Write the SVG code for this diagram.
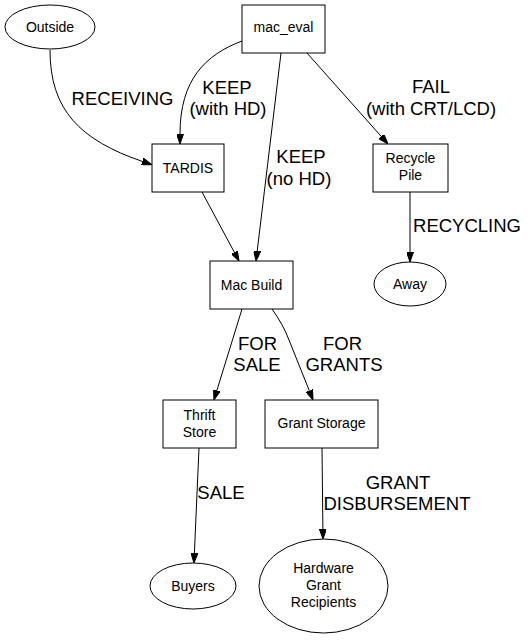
<svg xmlns="http://www.w3.org/2000/svg" width="528" height="640" viewBox="0 0 528 640">
<defs>
<marker id="ah" viewBox="0 0 10 7" refX="0" refY="3.5" markerWidth="10" markerHeight="7" markerUnits="userSpaceOnUse" orient="auto">
<path d="M0,0 L10,3.5 L0,7 z" fill="#000" stroke="#000" stroke-width="1"/>
</marker>
<style>
.n{fill:#fff;stroke:#000;stroke-width:1}
.t{font-family:"Liberation Sans",Arial,sans-serif;font-size:14px;text-anchor:middle;fill:#000}
.l{font-family:"Liberation Sans",Arial,sans-serif;font-size:18.5px;text-anchor:middle;fill:#000}
.e{fill:none;stroke:#000;stroke-width:1;marker-end:url(#ah)}
</style>
</defs>
<rect width="528" height="640" fill="#fff"/>
<g id="edges">
<path class="e" d="M50,50 C50,110 80,140 142.3,161.4"/>
<path class="e" d="M242,41 C205,55 180,80 180,134"/>
<path class="e" d="M281,53 L257.2,251.1"/>
<path class="e" d="M307,53 L381.3,136.5"/>
<path class="e" d="M202,192 L234.3,252.2"/>
<path class="e" d="M410,192 L410,252"/>
<path class="e" d="M242,309 L216.9,390.4"/>
<path class="e" d="M272,309 C279,319 285,329 289,340 L309.3,390.7"/>
<path class="e" d="M199,448 L194.4,553"/>
<path class="e" d="M322,448 L322.9,529"/>
<text class="l" x="122.5" y="105">RECEIVING</text>
<text class="l" x="227" y="94">KEEP</text>
<text class="l" x="228" y="115">(with HD)</text>
<text class="l" x="301" y="163">KEEP</text>
<text class="l" x="299" y="185">(no HD)</text>
<text class="l" x="431" y="93">FAIL</text>
<text class="l" x="431" y="115">(with CRT/LCD)</text>
<text class="l" x="467" y="232">RECYCLING</text>
<text class="l" x="257.5" y="350">FOR</text>
<text class="l" x="257" y="371">SALE</text>
<text class="l" x="342.5" y="350">FOR</text>
<text class="l" x="344" y="371">GRANTS</text>
<text class="l" x="221" y="499">SALE</text>
<text class="l" x="398" y="489">GRANT</text>
<text class="l" x="397" y="510">DISBURSEMENT</text>
</g>
<g id="Outside"><ellipse class="n" cx="50" cy="27" rx="45" ry="22"/><text class="t" x="50" y="32">Outside</text></g>
<g id="mac_eval"><rect class="n" x="242" y="5" width="83" height="48"/><text class="t" x="283.5" y="32">mac_eval</text></g>
<g id="TARDIS"><rect class="n" x="152" y="144" width="72" height="48"/><text class="t" x="188" y="173">TARDIS</text></g>
<g id="RecyclePile"><rect class="n" x="373" y="144" width="75" height="48"/><text class="t" x="410.5" y="163">Recycle</text><text class="t" x="410.5" y="180">Pile</text></g>
<g id="Away"><ellipse class="n" cx="410" cy="284" rx="36" ry="22"/><text class="t" x="410" y="289">Away</text></g>
<g id="MacBuild"><rect class="n" x="210" y="261" width="83" height="48"/><text class="t" x="251.5" y="290">Mac Build</text></g>
<g id="ThriftStore"><rect class="n" x="163" y="400" width="73" height="48"/><text class="t" x="199.5" y="420">Thrift</text><text class="t" x="199.5" y="437">Store</text></g>
<g id="GrantStorage"><rect class="n" x="265" y="400" width="113" height="48"/><text class="t" x="321.5" y="428">Grant Storage</text></g>
<g id="Buyers"><ellipse class="n" cx="193" cy="586" rx="43" ry="23"/><text class="t" x="193" y="591">Buyers</text></g>
<g id="HardwareGrantRecipients"><ellipse class="n" cx="323.5" cy="586" rx="64.5" ry="47"/><text class="t" x="323.5" y="573">Hardware</text><text class="t" x="323.5" y="590">Grant</text><text class="t" x="323.5" y="607">Recipients</text></g>
</svg>
